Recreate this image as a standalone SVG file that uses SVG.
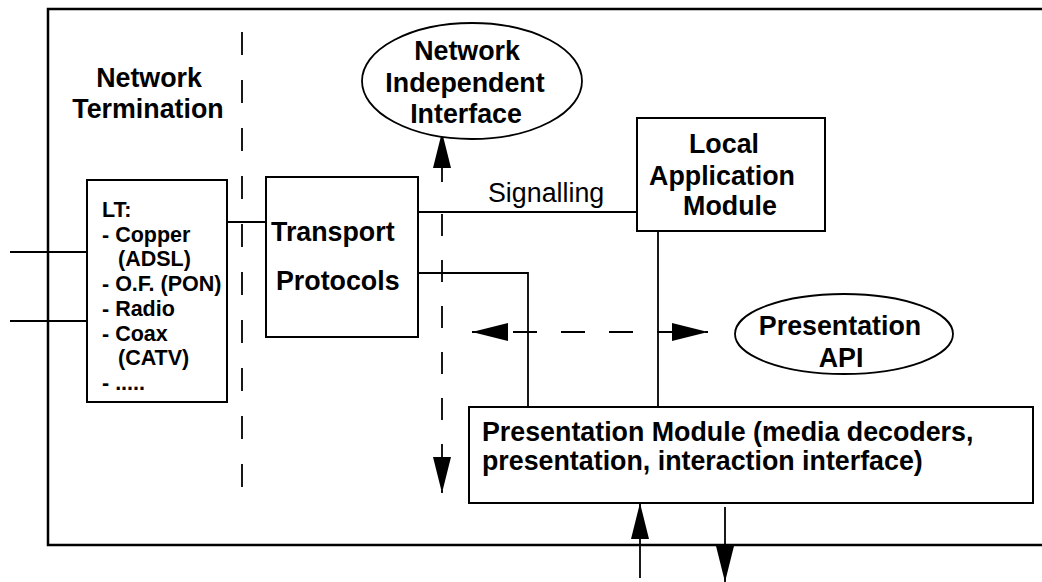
<svg xmlns="http://www.w3.org/2000/svg" width="1042" height="582" viewBox="0 0 1042 582">
  <style>
    .box { fill: #fff; stroke: #000; stroke-width: 2; }
    .oval { fill: #fff; stroke: #000; stroke-width: 1.8; }
    .frame { fill: none; stroke: #000; stroke-width: 2.5; }
    .line { fill: none; stroke: #000; stroke-width: 1.8; }
    .dash { fill: none; stroke: #000; stroke-width: 1.8; }
    .t { font-family: "Liberation Sans", Arial, sans-serif; font-size: 26.8px; font-weight: bold; fill: #000; }
    .mid { text-anchor: middle; }
    .reg { font-weight: normal; }
    .small { font-size: 21.5px; }
  </style>
  <defs>
    <marker id="head" markerUnits="userSpaceOnUse" markerWidth="37" markerHeight="19" refX="36" refY="9" orient="auto-start-reverse" overflow="visible">
      <path d="M0,0 L36,9 L0,18 Z" fill="#000"/>
    </marker>
  </defs>

  <!-- enclosing terminal frame (open to the right) -->
  <path class="frame" d="M1042,9 H48 V545 H1042"/>

  <!-- network termination boundary -->
  <path class="dash" d="M242,32 V487" stroke-dasharray="23 25"/>

  <!-- connectors -->
  <g id="connectors">
    <!-- access lines into LT -->
    <path class="line" d="M10,252 H87"/>
    <path class="line" d="M10,321 H87"/>
    <!-- LT to transport -->
    <path class="line" d="M227,222 H266"/>
    <!-- signalling -->
    <path class="line" d="M418,212 H637"/>
    <!-- transport to presentation module -->
    <path class="line" d="M418,273 H528 V407"/>
    <!-- local application to presentation module -->
    <path class="line" d="M658,231 V407"/>
    <!-- network independent interface -->
    <path class="line" d="M442,182 V132" marker-end="url(#head)"/>
    <path class="dash" d="M442,214 V493" stroke-dasharray="22 24" marker-end="url(#head)"/>
    <!-- presentation API -->
    <path class="dash" d="M472,332 H708" stroke-dasharray="24 24" stroke-dashoffset="7" marker-start="url(#head)" marker-end="url(#head)"/>
    <!-- user input / output -->
    <path class="line" d="M640,578 V503" marker-end="url(#head)"/>
    <path class="line" d="M725,507 V582" marker-end="url(#head)"/>
  </g>

  <g id="network-termination">
    <text class="t mid" x="149" y="87">Network</text>
    <text class="t mid" x="148" y="118">Termination</text>
  </g>

  <g id="lt">
    <rect class="box" x="87" y="180" width="140" height="222"/>
    <text class="t small" x="102" y="217">LT:</text>
    <text class="t small" x="102" y="241.7">- Copper</text>
    <text class="t small" x="118" y="266.4">(ADSL)</text>
    <text class="t small" x="102" y="291">- O.F. (PON)</text>
    <text class="t small" x="102" y="315.8">- Radio</text>
    <text class="t small" x="102" y="340.5">- Coax</text>
    <text class="t small" x="118" y="365.2">(CATV)</text>
    <text class="t small" x="102" y="390">- .....</text>
  </g>

  <g id="transport">
    <rect class="box" x="266" y="177" width="152" height="160"/>
    <text class="t" x="271" y="241">Transport</text>
    <text class="t" x="276" y="290">Protocols</text>
  </g>

  <g id="network-independent-interface">
    <ellipse class="oval" cx="472" cy="81" rx="110" ry="58"/>
    <text class="t mid" x="467" y="60">Network</text>
    <text class="t mid" x="465" y="92">Independent</text>
    <text class="t mid" x="466" y="123">Interface</text>
  </g>

  <g id="signalling-label">
    <text class="t reg" x="488" y="202">Signalling</text>
  </g>

  <g id="local-application">
    <rect class="box" x="637" y="118" width="188" height="113"/>
    <text class="t mid" x="724" y="153">Local</text>
    <text class="t mid" x="722" y="185">Application</text>
    <text class="t mid" x="730" y="215">Module</text>
  </g>

  <g id="presentation-api">
    <ellipse class="oval" cx="844" cy="334" rx="109" ry="40"/>
    <text class="t mid" x="840" y="335">Presentation</text>
    <text class="t mid" x="841" y="367">API</text>
  </g>

  <g id="presentation-module">
    <rect class="box" x="469" y="407" width="564" height="96"/>
    <text class="t" x="482" y="441">Presentation Module (media decoders,</text>
    <text class="t" x="482" y="470">presentation, interaction interface)</text>
  </g>
</svg>
